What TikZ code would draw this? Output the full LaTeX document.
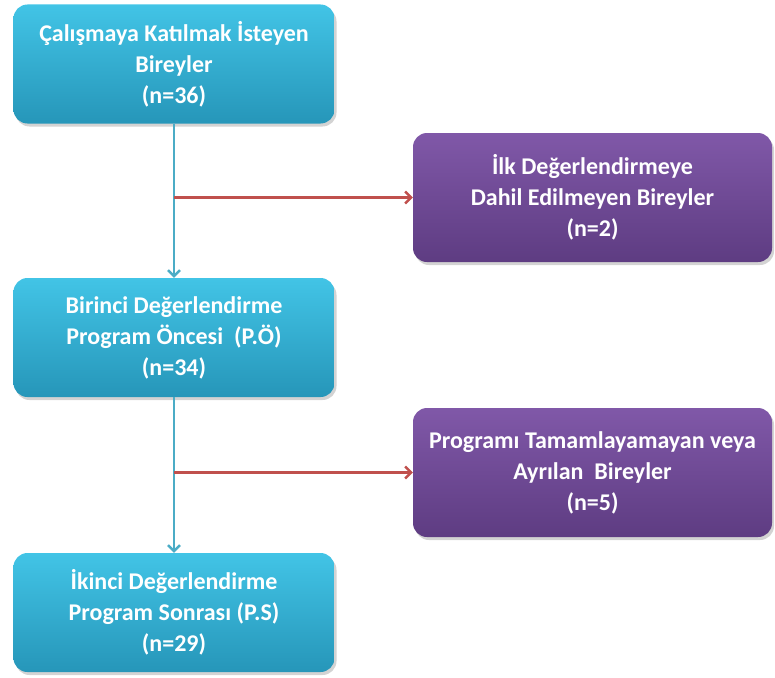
\documentclass[tikz,border=0pt]{standalone}
\usepackage{fontspec}
\setmainfont{Carlito}
\usetikzlibrary{arrows.meta,shadows}
\definecolor{cyantop}{RGB}{66, 196, 230}
\definecolor{cyanbot}{RGB}{38, 150, 185}
\definecolor{purptop}{RGB}{128, 88, 168}
\definecolor{purpbot}{RGB}{94, 60, 130}
\definecolor{flowline}{RGB}{75, 172, 198}
\definecolor{exitline}{RGB}{192, 80, 77}

\begin{document}
\begin{tikzpicture}[x=1pt, y=-1pt,
	box/.style={rounded corners=14pt, align=center, text=white, font=\bfseries\fontsize{24}{31}\selectfont,
		drop shadow={shadow xshift=2pt, shadow yshift=-3pt, opacity=0.35}},
	mainbox/.style={box, top color=cyantop, bottom color=cyanbot, minimum width=321pt, minimum height=119pt},
	outbox/.style={box, top color=purptop, bottom color=purpbot, minimum width=359pt, minimum height=129pt},
	flow/.style={draw=flowline, line width=2.4pt, -{Straight Barb[length=6pt, width=12pt]}},
	exit/.style={draw=exitline, line width=2.4pt, -{Straight Barb[length=6pt, width=12pt]}}]
	\useasboundingbox (0,0) rectangle (775,677);
	\node[mainbox] (pre) at (174, 64) {Çalışmaya Katılmak İsteyen\\Bireyler\\(n=36)};
	\node[outbox] (excl) at (592.5, 197.5) {İlk Değerlendirmeye\\Dahil Edilmeyen Bireyler\\(n=2)};
	\node[mainbox] (first) at (174, 337.5) {Birinci Değerlendirme\\Program Öncesi~ (P.Ö)\\(n=34)};
	\node[outbox] (drop) at (592.5, 472.5) {Programı Tamamlayamayan veya\\Ayrılan~ Bireyler\\(n=5)};
	\node[mainbox] (second) at (174, 612.5) {İkinci Değerlendirme\\Program Sonrası (P.S)\\(n=29)};
	\coordinate (j1) at (pre.south |- excl.west);
	\coordinate (j2) at (first.south |- drop.west);
	\draw[flow] (pre) -- (first);
	\draw[flow] (first) -- (second);
	\draw[exit] (j1) -- (excl);
	\draw[exit] (j2) -- (drop);
\end{tikzpicture}
\end{document}
